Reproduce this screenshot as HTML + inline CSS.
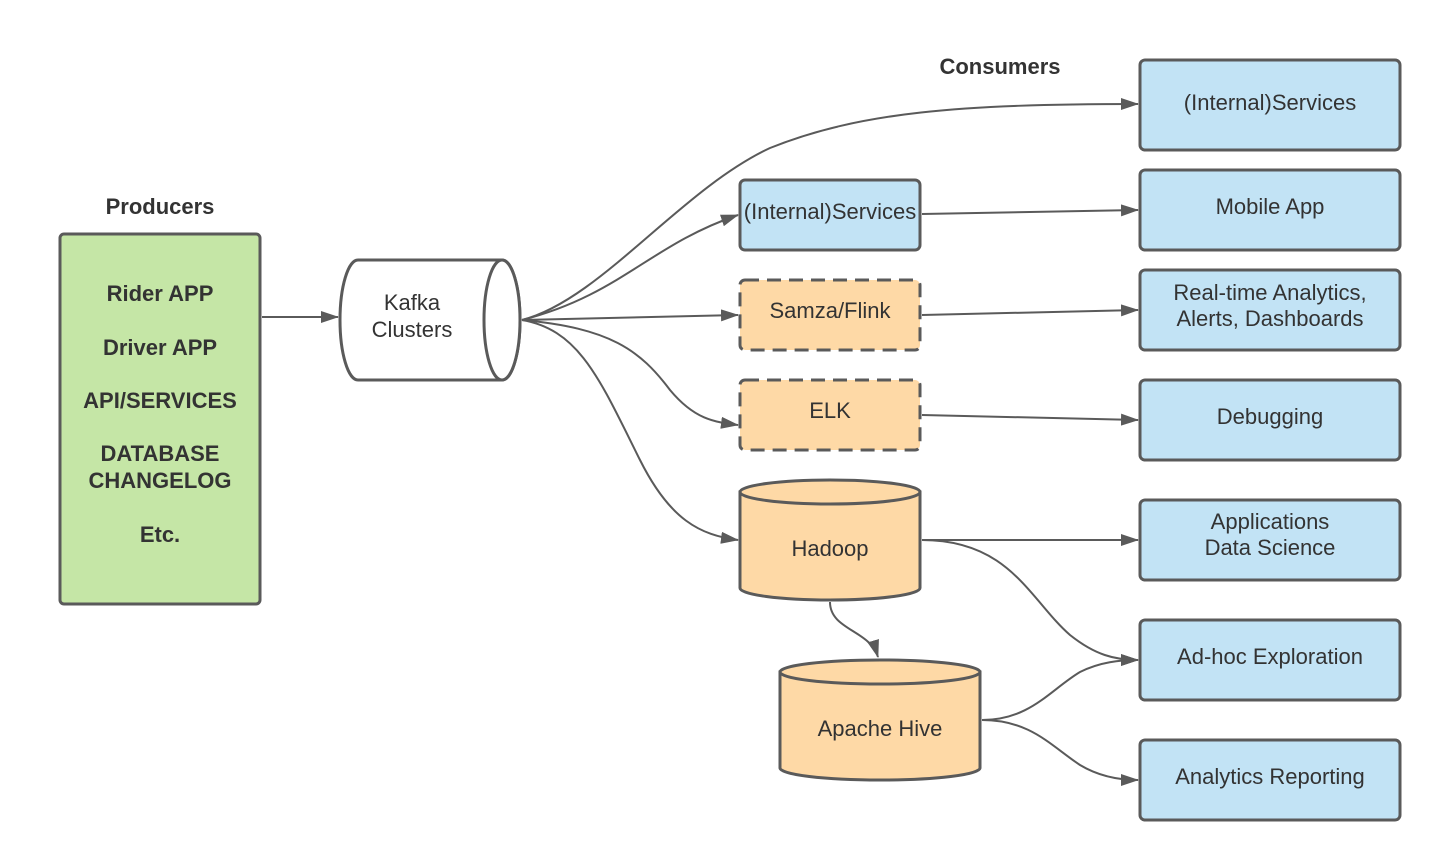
<!DOCTYPE html>
<html><head><meta charset="utf-8"><style>
html,body{margin:0;padding:0;background:#fff;width:1440px;height:860px;overflow:hidden}
text{font-family:"Liberation Sans",Arial,sans-serif;fill:#333;font-size:22px}
.b{font-weight:bold}
</style></head><body>
<svg width="1440" height="860" viewBox="0 0 1440 860" xmlns="http://www.w3.org/2000/svg">
<defs>
<marker id="a" markerWidth="18" markerHeight="12" refX="17" refY="6" orient="auto" markerUnits="userSpaceOnUse">
<path d="M0,0 L18,6 L0,12 z" fill="#5a5a5a"/></marker>
</defs>
<g fill="none" stroke="#5a5a5a" stroke-width="2" marker-end="url(#a)">
<path d="M262,317 L338,317"/>
<path d="M522,320 C600,300 680,190 770,148 C860,112 960,104 1138,104"/>
<path d="M522,320 C620,295 650,245 738,215"/>
<path d="M522,320 L738,315"/>
<path d="M522,320 C610,328 640,350 670,390 C695,420 715,422 738,425"/>
<path d="M522,320 C580,330 600,380 640,460 C670,520 700,535 738,540"/>
<path d="M922,214 L1138,210"/>
<path d="M922,315 L1138,310"/>
<path d="M922,415 L1138,420"/>
<path d="M922,540 L1138,540"/>
<path d="M922,540 C1010,540 1030,600 1070,635 C1095,655 1115,660 1138,660"/>
<path d="M830,602 C830,630 870,630 878,657"/>
<path d="M982,720 C1030,720 1050,690 1080,672 C1100,662 1120,660 1138,660"/>
<path d="M982,720 C1030,720 1050,745 1080,765 C1100,777 1120,780 1138,780"/>
</g>
<g stroke="#5a5a5a" stroke-width="3">
<rect x="60" y="234" width="200" height="370" rx="4" fill="#c5e6a6"/>
<path d="M358,260 L502,260 A18,60 0 0 1 502,380 L358,380 A18,60 0 0 1 358,260 z" fill="#fff"/>
<ellipse cx="502" cy="320" rx="18" ry="60" fill="#fff"/>
<rect x="740" y="180" width="180" height="70" rx="5" fill="#c2e3f5"/>
<rect x="740" y="280" width="180" height="70" rx="5" fill="#fed9a6" stroke-dasharray="14,8"/>
<rect x="740" y="380" width="180" height="70" rx="5" fill="#fed9a6" stroke-dasharray="14,8"/>
<path d="M740,492 L740,588 A90,12 0 0 0 920,588 L920,492 z" fill="#fed9a6"/>
<ellipse cx="830" cy="492" rx="90" ry="12" fill="#fed9a6"/>
<path d="M780,672 L780,768 A100,12 0 0 0 980,768 L980,672 z" fill="#fed9a6"/>
<ellipse cx="880" cy="672" rx="100" ry="12" fill="#fed9a6"/>
<g fill="#c2e3f5">
<rect x="1140" y="60" width="260" height="90" rx="5"/>
<rect x="1140" y="170" width="260" height="80" rx="5"/>
<rect x="1140" y="270" width="260" height="80" rx="5"/>
<rect x="1140" y="380" width="260" height="80" rx="5"/>
<rect x="1140" y="500" width="260" height="80" rx="5"/>
<rect x="1140" y="620" width="260" height="80" rx="5"/>
<rect x="1140" y="740" width="260" height="80" rx="5"/>
</g>
</g>
<g text-anchor="middle">
<text class="b" x="160" y="214">Producers</text>
<text class="b" x="1000" y="74">Consumers</text>
<text class="b" x="160" y="301">Rider APP</text>
<text class="b" x="160" y="355">Driver APP</text>
<text class="b" x="160" y="408">API/SERVICES</text>
<text class="b" x="160" y="461">DATABASE</text>
<text class="b" x="160" y="488">CHANGELOG</text>
<text class="b" x="160" y="542">Etc.</text>
<text x="412" y="310">Kafka</text>
<text x="412" y="337">Clusters</text>
<text x="830" y="219">(Internal)Services</text>
<text x="830" y="318">Samza/Flink</text>
<text x="830" y="418">ELK</text>
<text x="830" y="556">Hadoop</text>
<text x="880" y="736">Apache Hive</text>
<text x="1270" y="110">(Internal)Services</text>
<text x="1270" y="214">Mobile App</text>
<text x="1270" y="300">Real-time Analytics,</text>
<text x="1270" y="326">Alerts, Dashboards</text>
<text x="1270" y="424">Debugging</text>
<text x="1270" y="529">Applications</text>
<text x="1270" y="555">Data Science</text>
<text x="1270" y="664">Ad-hoc Exploration</text>
<text x="1270" y="784">Analytics Reporting</text>
</g>
</svg>
</body></html>
